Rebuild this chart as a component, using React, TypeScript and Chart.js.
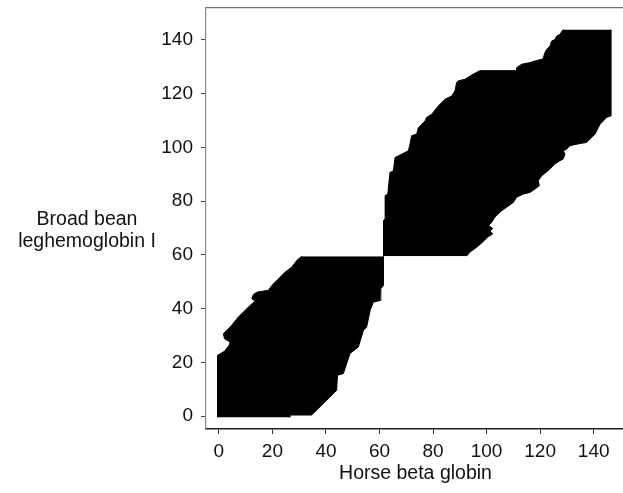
import React, { useEffect, useRef } from 'react';
import { Chart, registerables } from 'chart.js';

Chart.register(...registerables);

// Axis ticks and titles
const xTicks = [0, 20, 40, 60, 80, 100, 120, 140];
const yTicks = [0, 20, 40, 60, 80, 100, 120, 140];
const xTitle = 'Horse beta globin';
const yTitleLines = ['Broad bean', 'leghemoglobin I'];

// Outline of the lower block: [x, y] points (x = horse beta globin, y = leghemoglobin)
const lowerBlockLeftEdge: [number, number][] = [
  [-0.5, -0.5], [-0.5, 22.6], [2.1, 24.1], [3.8, 26.3], [4.2, 27.6], [2.1, 28.8],
  [1.7, 30.7], [3.0, 31.9], [4.8, 33.8], [7.3, 36.9], [9.8, 39.3], [11.7, 41.2],
  [13.5, 42.7], [12.3, 43.7], [12.9, 45.2], [14.2, 46.1], [18.5, 46.8], [19.8, 48.6],
  [22.3, 51.1], [24.7, 53.5], [27.2, 55.4], [29.1, 57.9], [31.0, 59.5],
];
const lowerBlockRightEdge: [number, number][] = [
  [26.6, -0.5], [26.6, 0.4], [34.6, 0.4], [35.9, 1.6], [42.8, 8.4], [44.0, 9.6],
  [44.3, 15.2], [46.5, 15.8], [49.0, 23.3], [52.1, 25.7], [54.0, 31.9], [55.2, 33.1],
  [56.5, 39.3], [57.7, 42.4], [60.2, 43.0], [60.5, 47.4], [61.5, 48.6], [61.5, 59.5],
];

// Outline of the upper block
const upperBlockLeftEdge: [number, number][] = [
  [61.5, 59.5], [61.5, 72.7], [62.1, 73.4], [62.1, 82.0], [63.1, 82.6], [63.9, 90.6],
  [65.2, 91.3], [65.8, 96.2], [67.0, 96.8], [70.8, 98.7], [71.4, 101.2], [72.0, 104.3],
  [73.9, 104.9], [74.5, 107.3], [77.0, 109.8], [77.6, 111.1], [79.5, 112.3], [82.0, 115.4],
  [84.5, 117.9], [87.0, 119.1], [88.2, 121.0], [88.8, 124.0], [89.4, 124.7], [91.9, 125.3],
  [95.0, 127.2], [97.5, 128.5], [111.2, 128.5], [111.2, 129.6], [113.1, 130.9], [116.2, 131.5],
  [118.1, 132.1], [120.6, 132.7], [121.2, 133.3], [121.8, 135.2], [122.4, 136.4], [123.7, 137.7],
  [124.3, 139.5], [125.5, 140.1], [126.2, 141.4], [127.4, 142.0], [128.6, 143.8],
];
const upperBlockRightEdge: [number, number][] = [
  [92.5, 59.5], [93.8, 61.0], [96.3, 62.8], [98.5, 64.7], [100.3, 66.5], [102.3, 67.8],
  [101.3, 68.8], [102.3, 69.8], [100.8, 70.9], [101.9, 72.1], [103.1, 74.0], [105.6, 76.4],
  [107.5, 77.7], [110.0, 79.5], [111.2, 81.4], [113.7, 82.6], [116.2, 83.2], [118.1, 84.5],
  [119.7, 85.7], [119.3, 87.6], [120.6, 89.4], [123.0, 91.3], [125.5, 93.8], [127.4, 95.0],
  [128.6, 95.6], [129.3, 97.5], [128.6, 98.7], [129.9, 99.3], [131.1, 100.6], [134.9, 101.4],
  [137.4, 101.8], [139.2, 103.6], [140.5, 104.9], [141.7, 107.3], [142.4, 108.6], [143.6, 109.8],
  [144.8, 111.1], [146.5, 111.7], [146.5, 143.8],
];

const FONT = "'Liberation Sans', Arial, Helvetica, sans-serif";

export default function App() {
  const ref = useRef<HTMLCanvasElement>(null);

  useEffect(() => {
    const canvas = ref.current;
    if (!canvas) return;

    const toPts = (edge: [number, number][]) => edge.map(([x, y]) => ({ x, y }));
    const edgeDataset = (edge: [number, number][], fill: any) => ({
      data: toPts(edge),
      borderColor: '#000',
      backgroundColor: '#000',
      borderWidth: 1,
      borderJoinStyle: 'miter',
      pointRadius: 0,
      pointHoverRadius: 0,
      tension: 0,
      fill,
    });

    const yTitlePlugin = {
      id: 'yTitleHorizontal',
      afterDraw(chart: any) {
        const { ctx, chartArea } = chart;
        ctx.save();
        ctx.font = `19.5px ${FONT}`;
        ctx.fillStyle = '#111';
        ctx.textAlign = 'center';
        ctx.textBaseline = 'middle';
        const cx = chartArea.left - 119;
        const cy = chartArea.top + 212;
        yTitleLines.forEach((t, i) => ctx.fillText(t, cx, cy + i * 22));
        ctx.restore();
      },
    };

    const chart = new Chart(canvas, {
      type: 'line',
      data: {
        datasets: [
          edgeDataset(lowerBlockLeftEdge, '+1'),
          edgeDataset(lowerBlockRightEdge, false),
          edgeDataset(upperBlockLeftEdge, '+1'),
          edgeDataset(upperBlockRightEdge, false),
        ] as any,
      },
      options: {
        indexAxis: 'y',
        responsive: false,
        animation: false,
        layout: { padding: { left: 150, top: 0, right: 15, bottom: 0 } },
        plugins: {
          legend: { display: false },
          tooltip: { enabled: false },
        },
        scales: {
          x: {
            type: 'linear',
            position: 'bottom',
            min: -4.8,
            max: 151.7,
            afterBuildTicks: (a: any) => {
              a.ticks = xTicks.map((v) => ({ value: v }));
            },
            afterFit: (s: any) => {
              s.height = 64;
            },
            grid: { display: true, drawOnChartArea: false, drawTicks: true, tickLength: 5, color: '#333' },
            border: { display: true, color: '#222', width: 1.5 },
            ticks: { color: '#111', font: { family: FONT, size: 19 }, padding: 6, maxRotation: 0, autoSkip: false },
            title: {
              display: true,
              text: xTitle,
              color: '#111',
              font: { family: FONT, size: 19.5 },
              padding: { top: 0, bottom: 8 },
            },
          },
          y: {
            type: 'linear',
            position: 'left',
            min: -4.8,
            max: 151.8,
            afterBuildTicks: (a: any) => {
              a.ticks = yTicks.map((v) => ({ value: v }));
            },
            afterFit: (s: any) => {
              s.width = 56;
            },
            grid: { display: true, drawOnChartArea: false, drawTicks: true, tickLength: 5, color: '#444' },
            border: { display: true, color: '#888', width: 1.2 },
            ticks: { color: '#111', font: { family: FONT, size: 19, lineHeight: 0.74 }, padding: 8, autoSkip: false },
          },
          x2: {
            type: 'linear',
            position: 'top',
            display: true,
            afterFit: (s: any) => {
              s.height = 0;
            },
            grid: { display: false, drawTicks: false },
            ticks: { display: false },
            border: { display: true, color: '#777', width: 1.2 },
          },
        },
      } as any,
      plugins: [yTitlePlugin],
    });

    return () => chart.destroy();
  }, []);

  return (
    <div
      style={{
        position: 'fixed',
        left: 0,
        top: 0,
        width: 623,
        height: 493,
        overflow: 'hidden',
        background: '#fff',
      }}
    >
      <canvas
        ref={ref}
        width={640}
        height={500}
        style={{ display: 'block', position: 'absolute', left: 0, top: -7 }}
      />
    </div>
  );
}
